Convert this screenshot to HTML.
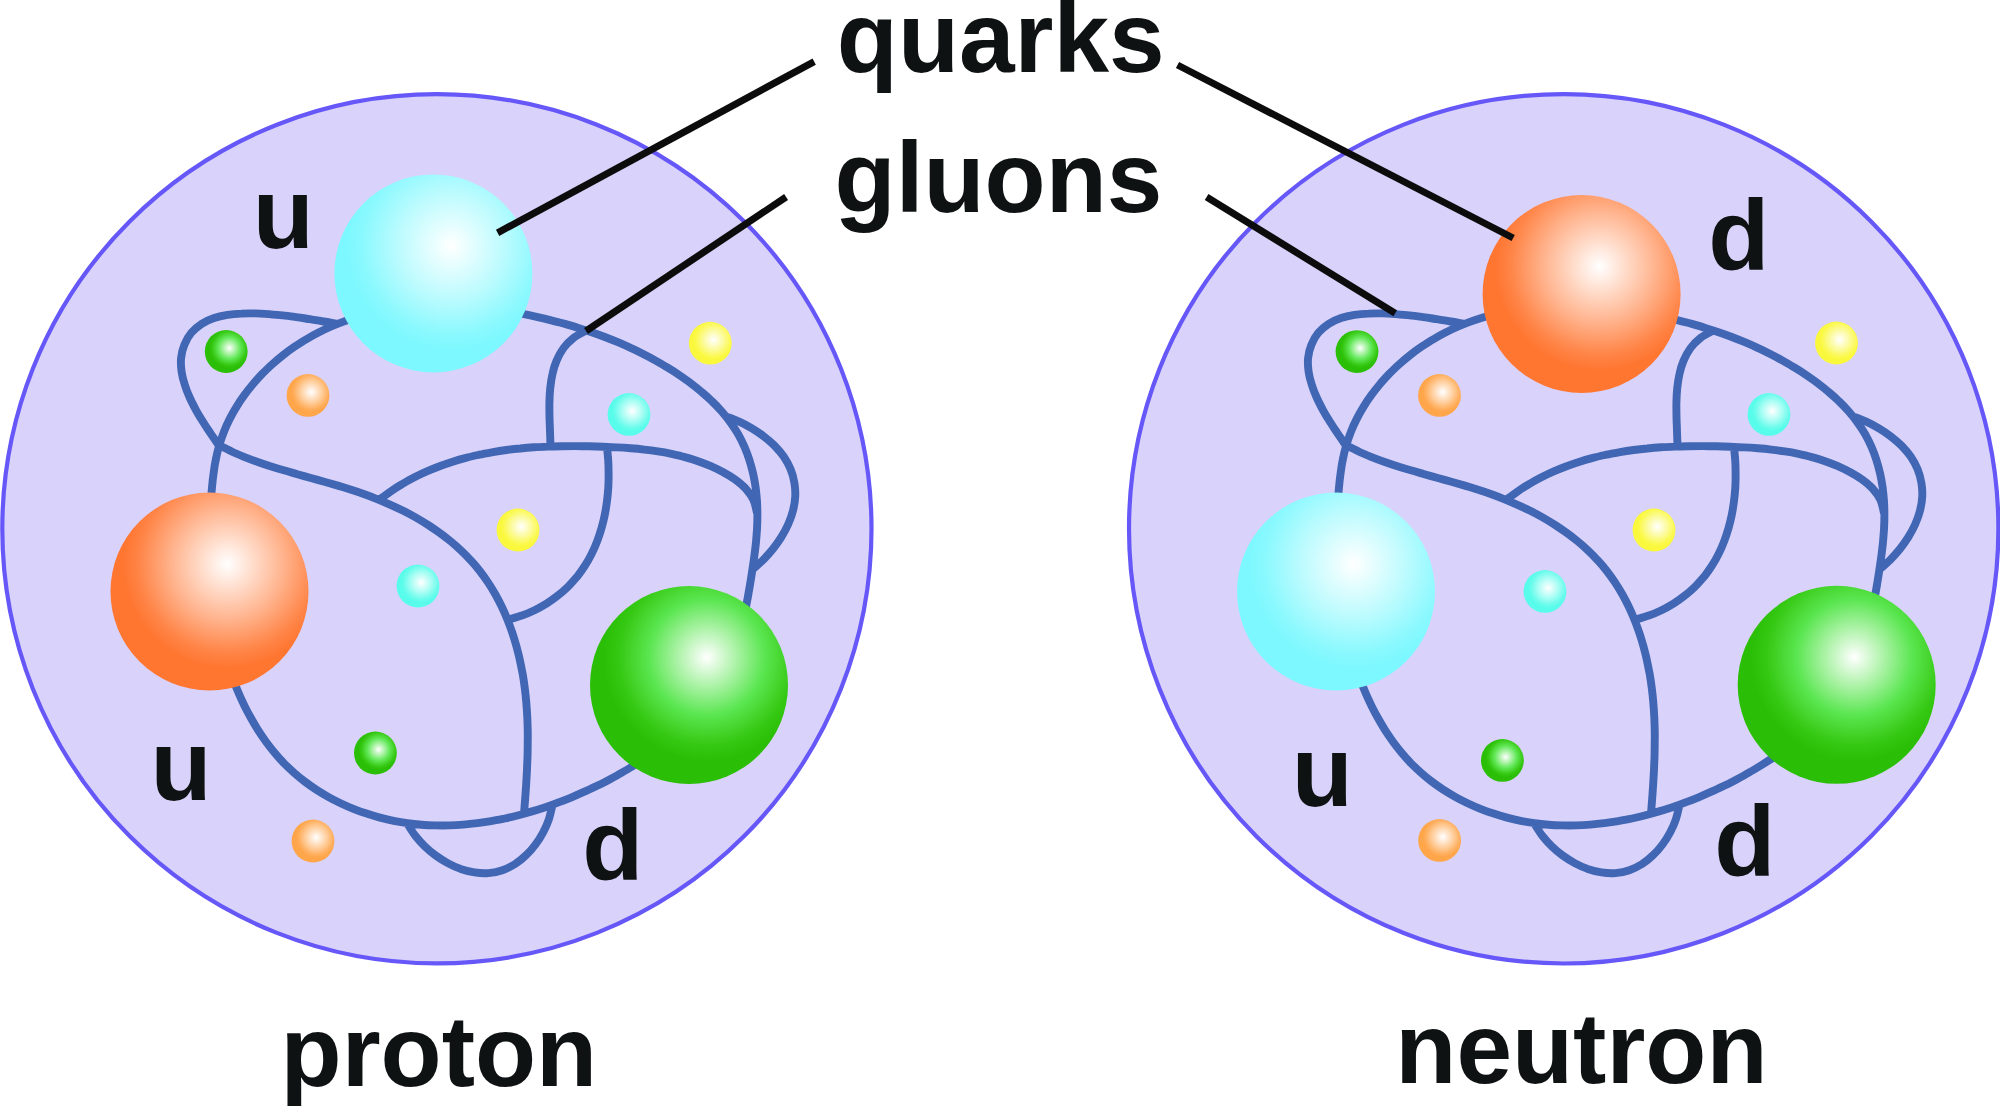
<!DOCTYPE html>
<html>
<head>
<meta charset="utf-8">
<title>proton and neutron</title>
<style>
html,body{margin:0;padding:0;background:#ffffff;}
body{width:2000px;height:1106px;overflow:hidden;font-family:"Liberation Sans",sans-serif;}
svg{display:block;}
text{font-family:"Liberation Sans",sans-serif;font-weight:bold;font-size:100px;fill:#0f1213;}
.gl{fill:none;stroke:#4166b3;stroke-width:7.9;stroke-linecap:butt;stroke-linejoin:round;}
.ptr line{stroke:#0c0c0c;stroke-width:7;stroke-linecap:butt;}
.nuc{fill:#d9d2fa;stroke:#6657f8;stroke-width:4.2;}
</style>
</head>
<body>
<svg width="2000" height="1106" viewBox="0 0 2000 1106">
<defs>
<radialGradient id="gC" gradientUnits="objectBoundingBox" cx="0.59" cy="0.36" r="0.525"><stop offset="0" stop-color="#FFFFFF"/><stop offset="0.5" stop-color="#BDFBFE"/><stop offset="0.85" stop-color="#8BF9FE"/><stop offset="1" stop-color="#7DF8FE"/></radialGradient>
<radialGradient id="gO" gradientUnits="objectBoundingBox" cx="0.59" cy="0.36" r="0.525"><stop offset="0" stop-color="#FFFFFF"/><stop offset="0.5" stop-color="#FFB996"/><stop offset="0.85" stop-color="#FF8548"/><stop offset="1" stop-color="#FF7631"/></radialGradient>
<radialGradient id="gG" gradientUnits="objectBoundingBox" cx="0.59" cy="0.36" r="0.525"><stop offset="0" stop-color="#FFFFFF"/><stop offset="0.56" stop-color="#5AE650"/><stop offset="0.84" stop-color="#36C914"/><stop offset="1" stop-color="#2BBE06"/></radialGradient>
<radialGradient id="sC" gradientUnits="objectBoundingBox" cx="0.575" cy="0.42" r="0.47"><stop offset="0" stop-color="#FFFFFF"/><stop offset="0.5" stop-color="#AAFDF4"/><stop offset="0.85" stop-color="#6AFCEC"/><stop offset="1" stop-color="#58FCEA"/></radialGradient>
<radialGradient id="sO" gradientUnits="objectBoundingBox" cx="0.575" cy="0.42" r="0.47"><stop offset="0" stop-color="#FFFFFF"/><stop offset="0.5" stop-color="#FFD1A3"/><stop offset="0.85" stop-color="#FFAF5E"/><stop offset="1" stop-color="#FFA54A"/></radialGradient>
<radialGradient id="sG" gradientUnits="objectBoundingBox" cx="0.575" cy="0.42" r="0.47"><stop offset="0" stop-color="#FFFFFF"/><stop offset="0.55" stop-color="#62E858"/><stop offset="0.85" stop-color="#36C914"/><stop offset="1" stop-color="#2ABE06"/></radialGradient>
<radialGradient id="sY" gradientUnits="objectBoundingBox" cx="0.575" cy="0.42" r="0.47"><stop offset="0" stop-color="#FFFFFF"/><stop offset="0.5" stop-color="#FCFB9C"/><stop offset="0.85" stop-color="#FBF951"/><stop offset="1" stop-color="#FAF83C"/></radialGradient>
<path id="gluons" d="M219.3 445.1C220.6 440.6 222.2 436.2 223.9 431.8C225.6 427.5 227.5 423.2 229.6 419.1C231.7 414.9 234.0 410.8 236.5 406.8C238.9 402.9 241.5 399.0 244.3 395.2C247.0 391.4 249.9 387.7 252.9 384.2C255.9 380.6 259.1 377.2 262.3 373.8C265.6 370.5 268.9 367.2 272.4 364.1C275.9 361.0 279.5 358.0 283.1 355.1C286.8 352.2 290.6 349.4 294.4 346.8C298.3 344.2 302.2 341.6 306.2 339.3C310.2 336.9 314.3 334.6 318.5 332.5C322.7 330.4 326.9 328.4 331.2 326.5C335.5 324.7 339.8 323.0 344.2 321.4C348.6 319.8 353.0 318.4 357.5 317.0C362.0 315.7 366.5 314.5 371.1 313.4C375.6 312.4 380.2 311.4 384.8 310.6C389.4 309.7 394.0 309.0 398.6 308.4C403.2 307.8 407.9 307.3 412.5 306.9C417.2 306.5 421.8 306.2 426.5 306.0C431.2 305.8 435.8 305.7 440.5 305.7C445.2 305.7 449.9 305.8 454.5 306.0C459.2 306.1 463.8 306.4 468.5 306.7C473.2 307.1 477.8 307.5 482.5 308.0C487.1 308.4 491.7 309.0 496.4 309.6C501.0 310.3 505.6 311.0 510.2 311.7C514.8 312.5 519.4 313.3 524.0 314.2C528.6 315.1 533.2 316.1 537.7 317.1C542.3 318.1 546.8 319.2 551.3 320.4C555.9 321.5 560.4 322.7 564.9 323.9C569.4 325.2 573.9 326.5 578.3 327.9C582.8 329.3 587.2 330.7 591.6 332.2C596.1 333.7 600.4 335.3 604.8 337.0C609.2 338.7 613.5 340.4 617.8 342.2C622.1 344.0 626.4 345.9 630.6 347.9C634.9 349.8 639.1 351.9 643.2 354.0C647.4 356.1 651.5 358.3 655.6 360.6C659.6 362.9 663.7 365.2 667.7 367.7C671.7 370.1 675.6 372.6 679.5 375.2C683.3 377.8 687.2 380.5 690.9 383.3C694.6 386.1 698.3 389.0 701.8 392.1C705.4 395.1 708.9 398.2 712.2 401.5C715.6 404.7 718.8 408.1 721.9 411.6C724.9 415.1 727.9 418.8 730.6 422.6C733.3 426.3 735.9 430.3 738.2 434.3C740.5 438.4 742.6 442.6 744.5 446.9C746.3 451.1 748.0 455.5 749.4 460.0C750.8 464.4 752.0 468.9 753.1 473.5C754.1 478.0 754.9 482.6 755.6 487.2C756.2 491.9 756.7 496.5 757.0 501.2C757.3 505.8 757.4 510.5 757.4 515.2C757.4 519.8 757.3 524.5 757.0 529.2C756.7 533.8 756.3 538.5 755.9 543.1C755.4 547.8 754.8 552.4 754.2 557.1C753.6 561.7 752.9 566.3 752.2 570.9C751.5 575.5 750.8 580.1 750.0 584.7C749.2 589.4 748.4 594.0 747.6 598.5C746.7 603.1 745.9 607.7 744.9 612.3C744.0 616.9 743.0 621.4 741.9 626.0C740.8 630.5 739.6 635.0 738.4 639.5C737.1 644.0 735.7 648.5 734.2 652.9C732.6 657.3 731.0 661.7 729.2 666.0C727.3 670.3 725.4 674.5 723.2 678.7C721.1 682.8 718.8 686.9 716.3 690.8C713.8 694.7 711.0 698.6 708.2 702.3C705.4 706.0 702.3 709.5 699.2 713.0C696.1 716.5 692.8 719.8 689.5 723.1C686.2 726.4 682.7 729.5 679.2 732.6C675.7 735.6 672.0 738.6 668.4 741.5C664.7 744.4 661.0 747.2 657.2 749.9C653.4 752.6 649.6 755.3 645.7 757.9C641.8 760.5 637.9 763.0 633.9 765.5C629.9 767.9 625.9 770.3 621.9 772.6C617.8 775.0 613.7 777.2 609.6 779.4C605.5 781.6 601.3 783.7 597.1 785.8C592.9 787.8 588.7 789.8 584.4 791.7C580.2 793.6 575.9 795.5 571.6 797.3C567.3 799.1 562.9 800.8 558.5 802.4C554.2 804.1 549.8 805.7 545.4 807.2C540.9 808.7 536.5 810.1 532.0 811.4C527.5 812.8 523.1 814.0 518.5 815.2C514.0 816.4 509.5 817.5 504.9 818.5C500.3 819.4 495.8 820.3 491.2 821.1C486.6 821.9 481.9 822.6 477.3 823.2C472.7 823.8 468.0 824.3 463.4 824.6C458.7 825.0 454.0 825.3 449.4 825.4C444.7 825.5 440.0 825.5 435.4 825.4C430.7 825.3 426.0 825.1 421.4 824.7C416.7 824.3 412.1 823.8 407.5 823.1C402.8 822.5 398.2 821.7 393.7 820.8C389.1 819.9 384.5 818.8 380.0 817.6C375.5 816.4 371.0 815.1 366.6 813.6C362.2 812.2 357.8 810.6 353.4 808.8C349.1 807.1 344.8 805.2 340.6 803.2C336.4 801.2 332.2 799.1 328.2 796.8C324.1 794.5 320.1 792.1 316.2 789.6C312.2 787.0 308.4 784.3 304.7 781.5C301.0 778.7 297.3 775.7 293.9 772.6C290.4 769.5 287.0 766.3 283.7 763.0C280.5 759.6 277.4 756.1 274.4 752.5C271.4 748.9 268.5 745.2 265.8 741.5C263.1 737.7 260.4 733.8 257.9 729.9C255.4 725.9 253.1 721.9 250.8 717.8C248.5 713.7 246.4 709.6 244.3 705.4C242.3 701.2 240.3 697.0 238.5 692.7C236.6 688.4 234.8 684.1 233.2 679.7C231.5 675.3 230.0 670.9 228.5 666.5C227.0 662.1 225.7 657.6 224.4 653.1C223.1 648.6 221.9 644.1 220.9 639.6C219.8 635.0 218.7 630.5 217.8 625.9C216.9 621.3 216.1 616.7 215.3 612.1C214.6 607.5 213.9 602.9 213.3 598.2C212.7 593.6 212.2 589.0 211.7 584.3C211.3 579.7 210.9 575.0 210.6 570.4C210.3 565.7 210.1 561.0 209.9 556.4C209.7 551.7 209.6 547.0 209.6 542.4C209.6 537.7 209.6 533.0 209.7 528.3C209.8 523.7 209.9 519.0 210.1 514.3C210.3 509.7 210.6 505.0 210.9 500.4C211.3 495.7 211.6 491.0 212.1 486.4C212.5 481.8 213.0 477.1 213.7 472.5C214.3 467.9 215.0 463.2 216.0 458.7C216.9 454.1 218.0 449.5 219.3 445.1Z M337.0 323.8C334.7 323.4 327.9 322.2 323.4 321.5C318.9 320.7 314.4 319.9 309.8 319.2C305.3 318.5 300.8 317.7 296.2 317.1C291.6 316.5 287.1 315.9 282.5 315.4C278.0 314.9 273.4 314.5 268.8 314.1C264.2 313.8 259.6 313.5 255.0 313.4C250.4 313.3 245.8 313.3 241.3 313.6C236.7 313.8 232.1 314.2 227.5 314.9C223.0 315.7 218.5 316.6 214.1 318.1C209.8 319.6 205.5 321.4 201.7 323.8C197.9 326.3 194.2 329.4 191.3 332.8C188.4 336.3 186.1 340.5 184.4 344.7C182.6 348.9 181.6 353.5 181.1 358.0C180.6 362.5 181.0 367.2 181.6 371.8C182.2 376.3 183.5 380.8 184.9 385.1C186.2 389.5 188.0 393.8 189.9 398.0C191.8 402.2 193.9 406.2 196.1 410.3C198.3 414.3 200.7 418.2 203.2 422.1C205.6 426.0 208.2 429.8 210.7 433.6C213.3 437.4 217.2 443.1 218.5 445.0 M218.5 445.0C220.6 446.0 226.8 449.3 231.1 451.2C235.3 453.2 239.6 455.0 244.0 456.8C248.3 458.5 252.7 460.2 257.1 461.7C261.5 463.3 265.9 464.8 270.4 466.2C274.8 467.6 279.3 469.0 283.8 470.3C288.3 471.7 292.8 472.9 297.3 474.2C301.8 475.5 306.3 476.7 310.8 478.0C315.3 479.2 319.8 480.5 324.3 481.7C328.8 483.0 333.3 484.3 337.8 485.6C342.3 487.0 346.7 488.3 351.2 489.8C355.6 491.2 360.1 492.7 364.5 494.3C368.9 495.9 373.3 497.6 377.6 499.3C381.9 501.0 386.2 502.9 390.5 504.8C394.8 506.7 399.0 508.7 403.2 510.8C407.4 512.9 411.5 515.1 415.6 517.4C419.6 519.7 423.6 522.1 427.6 524.6C431.5 527.2 435.4 529.8 439.2 532.5C443.0 535.2 446.7 538.1 450.3 541.0C454.0 544.0 457.5 547.1 460.9 550.3C464.3 553.5 467.6 556.8 470.7 560.3C473.9 563.7 476.9 567.3 479.8 571.0C482.7 574.7 485.4 578.5 488.0 582.4C490.6 586.3 493.0 590.3 495.3 594.3C497.6 598.4 499.8 602.6 501.8 606.8C503.8 611.0 505.7 615.3 507.4 619.6C509.2 624.0 510.8 628.4 512.3 632.8C513.8 637.2 515.1 641.7 516.4 646.2C517.6 650.7 518.8 655.3 519.8 659.8C520.8 664.4 521.7 669.0 522.6 673.6C523.4 678.2 524.1 682.8 524.7 687.5C525.3 692.1 525.8 696.7 526.2 701.4C526.6 706.1 526.9 710.7 527.2 715.4C527.4 720.1 527.6 724.7 527.7 729.4C527.8 734.1 527.8 738.8 527.7 743.5C527.7 748.1 527.6 752.8 527.5 757.5C527.3 762.2 527.1 766.8 526.9 771.5C526.6 776.2 526.4 780.8 526.1 785.5C525.8 790.2 525.4 794.8 525.1 799.5C524.7 804.2 524.2 811.2 524.0 813.5 M379.5 499.5C381.4 498.1 386.8 494.0 390.6 491.4C394.4 488.8 398.3 486.3 402.3 484.0C406.2 481.6 410.3 479.4 414.4 477.3C418.5 475.2 422.6 473.2 426.8 471.4C431.0 469.5 435.3 467.8 439.6 466.2C443.9 464.6 448.3 463.1 452.7 461.7C457.0 460.3 461.5 459.0 465.9 457.9C470.4 456.7 474.9 455.7 479.3 454.7C483.8 453.7 488.4 452.9 492.9 452.1C497.4 451.3 502.0 450.6 506.5 450.0C511.1 449.4 515.7 448.9 520.3 448.5C524.8 448.0 529.4 447.6 534.0 447.3C538.6 447.0 543.2 446.8 547.8 446.6C552.4 446.4 557.0 446.3 561.6 446.2C566.2 446.1 570.8 446.1 575.4 446.1C580.0 446.2 584.6 446.2 589.2 446.3C593.8 446.4 598.4 446.6 603.0 446.7C607.6 446.9 612.2 447.1 616.8 447.4C621.4 447.6 625.9 447.9 630.5 448.3C635.1 448.6 639.7 449.0 644.3 449.6C648.8 450.1 653.4 450.7 657.9 451.4C662.5 452.1 667.0 452.9 671.5 453.8C676.0 454.8 680.5 455.8 684.9 457.1C689.4 458.3 693.8 459.6 698.1 461.2C702.4 462.7 706.7 464.4 710.9 466.2C715.1 468.1 719.3 470.1 723.3 472.3C727.3 474.5 731.4 476.9 735.1 479.5C738.8 482.2 742.5 485.1 745.6 488.5C748.6 491.9 751.5 495.7 753.4 499.8C755.3 503.8 756.4 510.8 757.0 513.0 M586.0 330.5C583.9 331.7 577.4 334.8 573.6 337.8C569.9 340.7 566.4 344.2 563.6 348.0C560.8 351.8 558.5 356.2 556.6 360.6C554.7 364.9 553.4 369.6 552.4 374.3C551.3 378.9 550.7 383.7 550.2 388.5C549.7 393.3 549.5 398.1 549.4 402.9C549.3 407.6 549.4 412.4 549.5 417.2C549.6 422.0 549.9 426.8 550.0 431.6C550.2 436.4 550.4 443.6 550.5 446.0 M606.9 446.5C607.1 448.8 607.9 455.6 608.2 460.1C608.5 464.7 608.6 469.3 608.6 473.8C608.7 478.4 608.5 482.9 608.3 487.5C608.0 492.1 607.6 496.6 607.0 501.1C606.4 505.7 605.7 510.2 604.8 514.6C603.9 519.1 602.8 523.6 601.6 527.9C600.3 532.3 598.9 536.7 597.3 540.9C595.7 545.2 593.9 549.4 591.8 553.5C589.8 557.6 587.6 561.6 585.1 565.4C582.7 569.3 580.0 573.0 577.2 576.6C574.3 580.1 571.2 583.5 568.0 586.7C564.7 589.9 561.3 592.9 557.7 595.7C554.1 598.6 550.4 601.2 546.5 603.6C542.6 606.0 538.6 608.2 534.5 610.2C530.4 612.2 526.2 614.0 521.9 615.5C517.6 617.1 511.0 618.8 508.8 619.5 M726.0 416.3C728.2 417.2 734.9 419.6 739.2 421.6C743.6 423.6 747.8 425.8 751.9 428.3C756.0 430.7 760.0 433.4 763.7 436.3C767.5 439.2 771.2 442.3 774.5 445.6C777.8 449.0 781.0 452.7 783.7 456.6C786.3 460.5 788.7 464.7 790.5 469.1C792.3 473.4 793.6 478.1 794.4 482.8C795.2 487.4 795.5 492.3 795.2 497.0C795.0 501.7 794.1 506.5 792.9 511.1C791.8 515.7 790.0 520.2 788.1 524.5C786.2 528.8 783.8 533.0 781.3 537.1C778.8 541.1 776.0 545.0 773.1 548.7C770.1 552.4 766.9 556.0 763.6 559.4C760.2 562.8 754.8 567.4 753.0 569.0 M407.5 824.0C408.8 826.0 412.4 832.1 415.3 835.8C418.2 839.5 421.4 843.1 424.8 846.3C428.2 849.6 431.9 852.7 435.7 855.5C439.5 858.2 443.5 860.8 447.7 863.1C451.8 865.3 456.2 867.3 460.6 868.9C465.1 870.4 469.7 871.7 474.4 872.4C479.0 873.1 483.8 873.5 488.5 873.1C493.2 872.7 497.9 871.8 502.4 870.2C506.8 868.7 511.1 866.5 515.1 864.0C519.0 861.4 522.7 858.4 526.1 855.1C529.6 851.9 532.7 848.3 535.5 844.5C538.4 840.7 540.9 836.7 543.1 832.5C545.3 828.4 547.3 824.0 548.8 819.5C550.3 815.1 551.7 808.1 552.3 805.8"/>
</defs>
<rect width="2000" height="1106" fill="#ffffff"/>
<circle class="nuc" cx="436.9" cy="528.8" r="434.6"/>
<circle class="nuc" cx="1563.7" cy="528.8" r="434.7"/>
<use href="#gluons" class="gl"/>
<use href="#gluons" class="gl" transform="translate(1127,0)"/>
<g>
<circle cx="226.2" cy="351.5" r="21.4" fill="url(#sG)"/>
<circle cx="308.0" cy="395.4" r="21.4" fill="url(#sO)"/>
<circle cx="710.3" cy="343.2" r="21.4" fill="url(#sY)"/>
<circle cx="629.0" cy="414.4" r="21.4" fill="url(#sC)"/>
<circle cx="518.0" cy="530.0" r="21.4" fill="url(#sY)"/>
<circle cx="418.0" cy="586.0" r="21.4" fill="url(#sC)"/>
<circle cx="375.4" cy="753.0" r="21.4" fill="url(#sG)"/>
<circle cx="313.0" cy="841.0" r="21.4" fill="url(#sO)"/>
<circle cx="1357.0" cy="351.6" r="21.4" fill="url(#sG)"/>
<circle cx="1439.5" cy="395.4" r="21.4" fill="url(#sO)"/>
<circle cx="1836.5" cy="343.0" r="21.4" fill="url(#sY)"/>
<circle cx="1769.0" cy="414.4" r="21.4" fill="url(#sC)"/>
<circle cx="1654.0" cy="530.0" r="21.4" fill="url(#sY)"/>
<circle cx="1545.0" cy="591.4" r="21.4" fill="url(#sC)"/>
<circle cx="1502.4" cy="760.4" r="21.4" fill="url(#sG)"/>
<circle cx="1439.6" cy="840.4" r="21.4" fill="url(#sO)"/>
</g>
<g>
<circle cx="433.4" cy="273.4" r="99.0" fill="url(#gC)"/>
<circle cx="209.5" cy="591.5" r="99.0" fill="url(#gO)"/>
<circle cx="689.0" cy="685.0" r="99.0" fill="url(#gG)"/>
<circle cx="1581.6" cy="294.0" r="99.0" fill="url(#gO)"/>
<circle cx="1336.0" cy="591.5" r="99.0" fill="url(#gC)"/>
<circle cx="1836.7" cy="684.8" r="99.0" fill="url(#gG)"/>
</g>
<g class="ptr">
<line x1="814.2" y1="61.6" x2="497.6" y2="232.8"/>
<line x1="786.1" y1="197.0" x2="586.0" y2="331.0"/>
<line x1="1177.5" y1="65.0" x2="1513.2" y2="238.0"/>
<line x1="1206.6" y1="197.1" x2="1395.2" y2="313.3"/>
</g>
<g>
<text x="836.8" y="71.9">quarks</text>
<text x="834.6" y="211.8">gluons</text>
<text x="252.8" y="248.2">u</text>
<text x="150.5" y="799.8">u</text>
<text x="582.3" y="880.3">d</text>
<text x="1708.3" y="270.4">d</text>
<text x="1291.7" y="805.5">u</text>
<text x="1714.2" y="875.5">d</text>
<text x="280.6" y="1086.0">proton</text>
<text x="1395.3" y="1083.0">neutron</text>
</g>
</svg>
</body>
</html>
